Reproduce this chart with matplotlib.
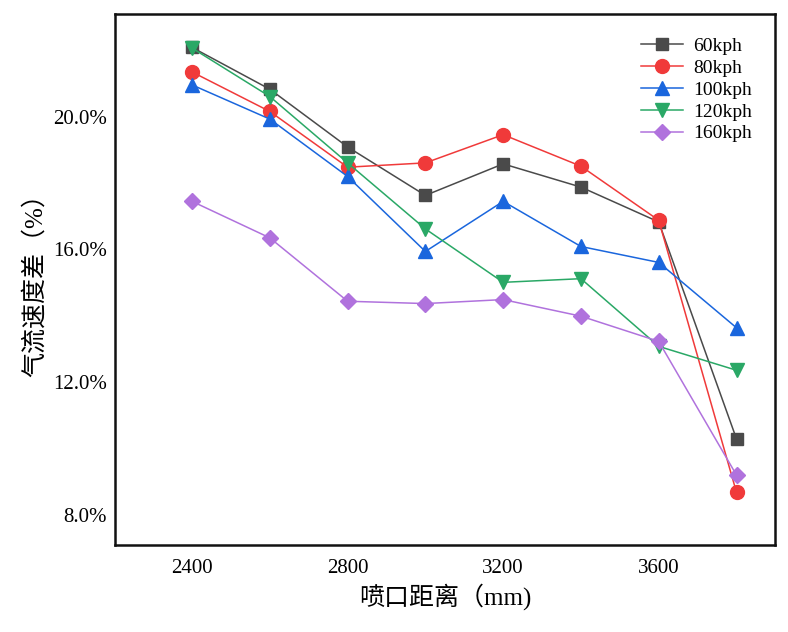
import numpy as np
import matplotlib
matplotlib.use("Agg")
import matplotlib.pyplot as plt
from matplotlib.ticker import FuncFormatter

plt.rcParams['font.family'] = ['Liberation Serif', 'Noto Sans CJK SC', 'DejaVu Sans']

# nozzle distance (mm)
distance = [2400, 2600, 2800, 3000, 3200, 3400, 3600, 3800]

# airflow velocity difference (%)
v60 = [22.09, 20.83, 19.09, 17.63, 18.58, 17.88, 16.83, 10.29]
v80 = [21.35, 20.16, 18.48, 18.61, 19.46, 18.51, 16.88, 8.68]
v100 = [20.96, 19.93, 18.20, 15.94, 17.45, 16.09, 15.61, 13.64]
v120 = [22.07, 20.61, 18.61, 16.62, 15.01, 15.12, 13.08, 12.36]
v160 = [17.45, 16.35, 14.44, 14.37, 14.49, 13.99, 13.23, 9.20]

labels = ["60kph", "80kph", "100kph", "120kph", "160kph"]
yticks = [8.0, 12.0, 16.0, 20.0]
xticks = [2400, 2800, 3200, 3600]

series = [v60, v80, v100, v120, v160]
colors = ["#4a4a4a", "#f03a3a", "#1a66dd", "#2aa866", "#b072dd"]
markers = ["s", "o", "^", "v", "D"]
msizes = [9, 10, 10, 10, 8.5]

fig = plt.figure(figsize=(7.88, 6.32), dpi=100)
ax = fig.add_axes([0.146, 0.138, 0.838, 0.840])

for vals, lab, c, m, ms in zip(series, labels, colors, markers, msizes):
    ax.plot(distance, vals, color=c, marker=m, markersize=ms, lw=1.1, label=lab)

ax.set_xlim(2202, 3900)
ax.set_ylim(7.1, 23.1)
ax.set_xticks(xticks)
ax.set_yticks(yticks)
ax.yaxis.set_major_formatter(FuncFormatter(lambda v, p: f"{v:.1f}%"))
ax.tick_params(length=0, labelsize=15)
ax.tick_params(axis="x", pad=10)
ax.tick_params(axis="y", pad=6)
for s in ax.spines.values():
    s.set_linewidth(1.8)
    s.set_color("#111")

ax.set_xlabel("喷口距离（mm)", fontsize=18, labelpad=4)
ax.set_ylabel("气流速度差（%）", fontsize=18, labelpad=4)
ax.legend(loc="upper right", frameon=False, fontsize=14, handlelength=2.2,
          labelspacing=0.22, borderaxespad=0.9, borderpad=0.3, handletextpad=0.5)

fig.savefig("out.png", dpi=100)
